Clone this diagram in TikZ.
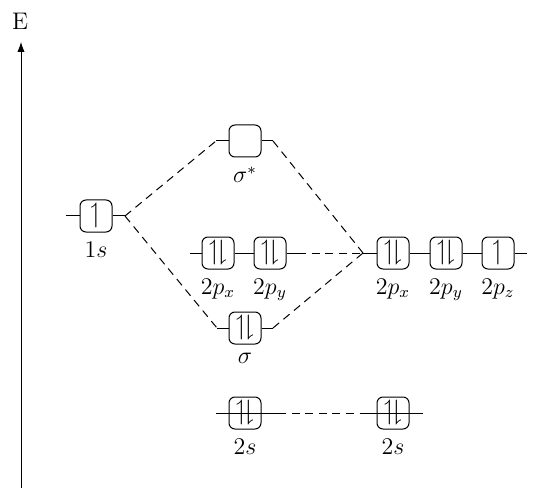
\documentclass[tikz,border=0pt]{standalone}
\usepackage{amssymb}
\usetikzlibrary{arrows.meta}
\newcommand\elpair{\fontsize{14}{16}\selectfont$\upharpoonleft\!\downharpoonright$}
\newcommand\elone{\fontsize{14}{16}\selectfont$\upharpoonleft$}
\begin{document}
\begin{tikzpicture}[x=0.5pt,y=-0.5pt,
 every node/.style={font=\fontsize{12}{14}\selectfont},
 every label/.style={font=\fontsize{12}{14}\selectfont},
 label distance=1pt,
 orb/.style={draw, line width=0.5pt, rounded corners=3pt, minimum width=16pt, minimum height=16pt, inner sep=0pt},
 lvl/.style={line width=0.5pt},
 corr/.style={dash pattern=on 4pt off 2.8pt, line width=0.5pt}]
\useasboundingbox (0,0) rectangle (540,502);
% energy axis
\node (E) at (20,21) {E};
\coordinate (axb) at (21,488);
\coordinate (axt) at (21,42);
\draw[-{Latex[length=5pt,width=3.6pt]}, line width=0.4pt] (axb) -- (axt);
% 1s
\node[orb, label=below:$1s$] (s1) at (96,216) {\elone};
\coordinate (s1l) at (66,216);
\coordinate (s1r) at (125,216);
\draw[lvl] (s1l) -- (s1.west) (s1.east) -- (s1r);
% sigma*
\node[orb, label=below:$\sigma^*$] (ss) at (245,141) {};
\coordinate (ssl) at (216,141);
\coordinate (ssr) at (273,141);
\draw[lvl] (ssl) -- (ss.west) (ss.east) -- (ssr);
% sigma
\node[orb, label=below:$\sigma$] (sg) at (245,328) {\elpair};
\coordinate (sgl) at (217,328);
\coordinate (sgr) at (273,328);
\draw[lvl] (sgl) -- (sg.west) (sg.east) -- (sgr);
% left 2p
\node[orb, label=below:$2p_x$] (lpx) at (218,253) {\elpair};
\node[orb, label=below:$2p_y$] (lpy) at (270,253) {\elpair};
\coordinate (lpl) at (190,253);
\coordinate (lpr) at (298,253);
\draw[lvl] (lpl) -- (lpx.west) (lpx.east) -- (lpy.west) (lpy.east) -- (lpr);
% right 2p
\node[orb, label=below:$2p_x$] (rpx) at (393,253) {\elpair};
\node[orb, label=below:$2p_y$] (rpy) at (446,253) {\elpair};
\node[orb, label=below:$2p_z$] (rpz) at (498,253) {\elone};
\coordinate (rpl) at (363,253);
\coordinate (rpr) at (527,253);
\draw[lvl] (rpl) -- (rpx.west) (rpx.east) -- (rpy.west) (rpy.east) -- (rpz.west) (rpz.east) -- (rpr);
% 2s
\node[orb, label=below:$2s$] (ls) at (245,413) {\elpair};
\node[orb, label=below:$2s$] (rs) at (393,413) {\elpair};
\coordinate (lsl) at (216,413);
\coordinate (lsr) at (278,413);
\coordinate (rsl) at (363,413);
\coordinate (rsr) at (423,413);
\draw[lvl] (lsl) -- (lsr) (rsl) -- (rsr);
% correlation lines
\draw[corr] (s1r) -- (ssl) (ssr) -- (rpl);
\draw[corr] (s1r) -- (sgl) (sgr) -- (rpl);
\draw[corr] (lpr) -- (rpl);
\draw[corr] (lsr) -- (rsl);
\end{tikzpicture}
\end{document}
